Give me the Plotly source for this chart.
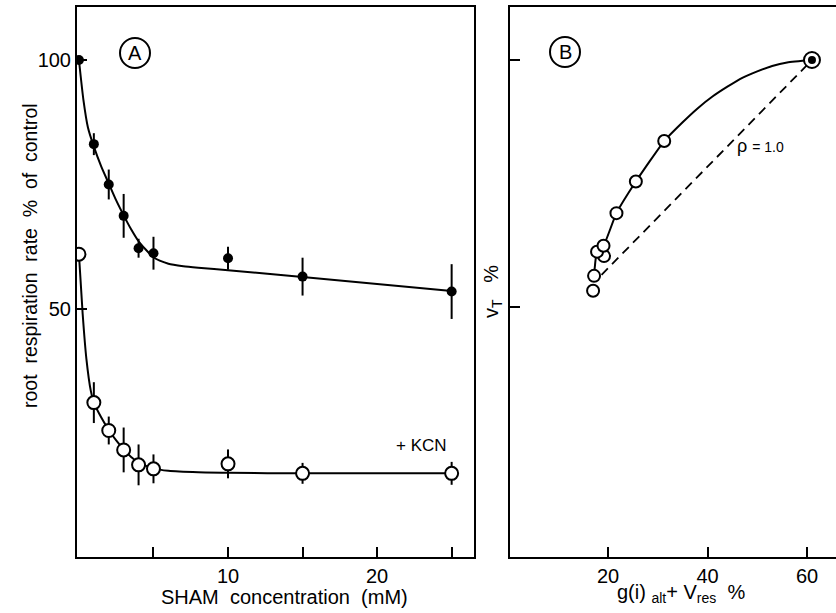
import plotly.graph_objects as go

# ---------------- Panel A data ----------------
sham_mM = [0, 1, 2, 3, 4, 5, 10, 15, 25]
rate_sham = [100, 83.1, 75.0, 68.7, 62.2, 61.2, 60.2, 56.5, 53.5]
rate_sham_err = [0, 2.2, 3.0, 4.4, 1.9, 3.3, 2.3, 3.8, 5.5]
rate_kcn = [61.0, 31.2, 25.6, 21.7, 18.7, 17.9, 18.9, 17.0, 17.0]
rate_kcn_err = [0, 4.1, 2.8, 4.5, 4.1, 2.9, 2.9, 2.1, 2.3]

fit_sham_x = [0, 0.3, 0.6, 1, 1.5, 2, 2.5, 3, 3.5, 4, 5, 6, 7, 8, 10, 15, 25]
fit_sham_y = [100, 92, 86.5, 82.6, 78.6, 75.2, 71.8, 68.8, 66.0, 63.6, 60.4, 59.1, 58.6, 58.3, 57.8, 56.4, 53.6]
fit_kcn_x = [0, 0.25, 0.5, 0.8, 1, 1.5, 2, 2.5, 3, 3.5, 4, 5, 6, 8, 10, 15, 25]
fit_kcn_y = [61, 49, 40, 33.5, 31.2, 28.2, 25.7, 23.6, 21.8, 20.3, 19.2, 18.0, 17.5, 17.2, 17.1, 17.0, 17.0]

# ---------------- Panel B data ----------------
alt_res = [17.0, 17.2, 19.2, 17.8, 19.1, 21.7, 25.6, 31.3]
v_total = [53.3, 56.3, 60.3, 61.2, 62.4, 69.0, 75.4, 83.6]
control_x = [61.0]
control_y = [100]
fit_b_x = [17.2, 17.8, 19.1, 21.7, 25.6, 31.3, 35, 38, 41, 44, 47, 50, 53, 56, 61.0]
fit_b_y = [56.3, 61.2, 62.4, 69.0, 75.4, 83.6, 87.4, 90.2, 92.6, 94.6, 96.4, 97.7, 98.8, 99.5, 100]
rho_line_x = [18.7, 61.0]
rho_line_y = [56.5, 100]

xA_ticks = [10, 20]
xA_minor_ticks = [5, 15, 25]
yA_ticks = [50, 100]
xB_ticks = [20, 40, 60]
yB_ticks = [50, 100]

FONT = "Liberation Sans, Arial, sans-serif"
W, H = 836, 613

fig = go.Figure()

# Panel A fitted curves
fig.add_trace(go.Scatter(x=fit_sham_x, y=fit_sham_y, mode="lines",
                         line=dict(color="black", width=2, shape="spline", smoothing=0.6),
                         xaxis="x", yaxis="y", hoverinfo="skip"))
fig.add_trace(go.Scatter(x=fit_kcn_x, y=fit_kcn_y, mode="lines",
                         line=dict(color="black", width=2, shape="spline", smoothing=0.6),
                         xaxis="x", yaxis="y", hoverinfo="skip"))
# Panel A points
fig.add_trace(go.Scatter(x=sham_mM, y=rate_sham, mode="markers",
                         marker=dict(color="black", size=10),
                         error_y=dict(type="data", array=rate_sham_err, visible=True,
                                      color="black", thickness=2, width=0),
                         xaxis="x", yaxis="y"))
fig.add_trace(go.Scatter(x=sham_mM, y=rate_kcn, mode="markers",
                         marker=dict(color="white", size=13, line=dict(color="black", width=2)),
                         error_y=dict(type="data", array=rate_kcn_err, visible=True,
                                      color="black", thickness=2, width=0),
                         xaxis="x", yaxis="y"))

# Panel B
fig.add_trace(go.Scatter(x=rho_line_x, y=rho_line_y, mode="lines",
                         line=dict(color="black", width=1.8, dash="9px,6px"),
                         xaxis="x2", yaxis="y2", hoverinfo="skip"))
fig.add_trace(go.Scatter(x=fit_b_x, y=fit_b_y, mode="lines",
                         line=dict(color="black", width=2, shape="spline", smoothing=0.5),
                         xaxis="x2", yaxis="y2", hoverinfo="skip"))
fig.add_trace(go.Scatter(x=alt_res, y=v_total, mode="markers",
                         marker=dict(color="white", size=12, line=dict(color="black", width=2)),
                         xaxis="x2", yaxis="y2"))
fig.add_trace(go.Scatter(x=control_x, y=control_y, mode="markers",
                         marker=dict(color="white", size=16, line=dict(color="black", width=2)),
                         xaxis="x2", yaxis="y2"))
fig.add_trace(go.Scatter(x=control_x, y=control_y, mode="markers",
                         marker=dict(color="black", size=8),
                         xaxis="x2", yaxis="y2"))

ax_common = dict(showline=True, linecolor="black", linewidth=2, showgrid=False,
                 zeroline=False, ticks="inside", ticklen=10, tickwidth=2,
                 tickcolor="black", tickfont=dict(family=FONT, size=20, color="black"))

ydom = [(H - 557) / H, (H - 7) / H]
fig.update_layout(
    width=W, height=H,
    margin=dict(l=0, r=0, t=0, b=0),
    paper_bgcolor="white", plot_bgcolor="white",
    showlegend=False,
    font=dict(family=FONT, color="black"),
    xaxis=dict(domain=[77 / W, 474 / W], range=[-0.13, 26.5], tickvals=xA_ticks,
               minor=dict(tickvals=xA_minor_ticks, ticks="inside", ticklen=10,
                          tickwidth=2, tickcolor="black", showgrid=False),
               mirror=True, anchor="y", **ax_common),
    yaxis=dict(domain=ydom, range=[0.2, 110.64], tickvals=yA_ticks, mirror=True,
               anchor="x", **ax_common),
    xaxis2=dict(domain=[510 / W, 1.0], range=[0.3, 65.83], tickvals=xB_ticks,
                mirror=True, anchor="y2", **ax_common),
    yaxis2=dict(domain=ydom, range=[-0.61, 110.73], tickvals=yB_ticks,
                showticklabels=False, mirror=False, anchor="x2", **ax_common),
)

def px(x):
    return x / W

def py(y):
    return 1 - y / H

annots = [
    dict(text="SHAM  concentration  (mM)", x=px(284), y=py(597), size=20),
    dict(text="g(i) <sub>alt</sub>+ V<sub>res</sub>  %", x=px(681), y=py(593), size=20),
    dict(text="root  respiration  rate  %  of  control", x=px(30), y=py(256), size=19.5, angle=-90),
    dict(text="v<sub>T</sub>   %", x=px(493), y=py(292), size=20, angle=-90),
    dict(text="A", x=px(135), y=py(53), size=20),
    dict(text="B", x=px(565), y=py(52), size=20),
]
for a in annots:
    fig.add_annotation(text=a["text"], x=a["x"], y=a["y"], xref="paper", yref="paper",
                       showarrow=False, textangle=a.get("angle", 0),
                       xanchor="center", yanchor="middle",
                       font=dict(family=FONT, size=a["size"], color="black"))

fig.add_annotation(text="+ KCN", x=23.0, y=22.5, xref="x", yref="y", showarrow=False,
                   font=dict(family=FONT, size=17, color="black"))
fig.add_annotation(text="ρ <span style='font-size:14px'>= 1.0</span>", x=50.6, y=82.5,
                   xref="x2", yref="y2", showarrow=False,
                   font=dict(family=FONT, size=18, color="black"))

for cx, cy in [(135, 53), (565, 52)]:
    r = 15
    fig.add_shape(type="circle", xref="paper", yref="paper",
                  x0=px(cx - r), x1=px(cx + r), y0=py(cy + r), y1=py(cy - r),
                  line=dict(color="black", width=2))

fig.write_html("out.html", config={"displayModeBar": False},
               post_script="document.body.style.margin='0px';document.body.style.padding='0px';")
